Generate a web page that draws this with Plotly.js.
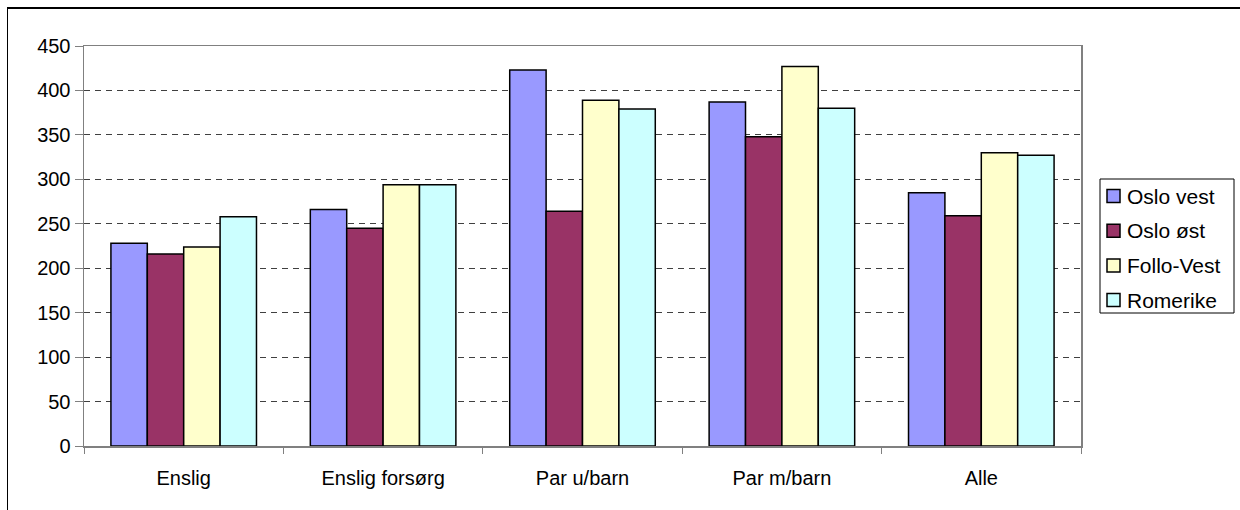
<!DOCTYPE html>
<html>
<head>
<meta charset="utf-8">
<script src="https://cdn.plot.ly/plotly-3.0.1.min.js"></script>
<style>
html,body{margin:0;padding:0;background:#fff;overflow:hidden;}
#wrap{position:relative;width:1240px;height:510px;overflow:hidden;}
#chart{position:absolute;left:0;top:0;width:1240px;height:510px;}
#frame{position:absolute;left:7px;top:7px;width:1400px;height:700px;border-top:2px solid #000;border-left:1.5px solid #000;pointer-events:none;}
</style>
</head>
<body>
<div id="wrap"><div id="chart"></div><div id="frame"></div></div>
<script>
var categories = ["Enslig", "Enslig forsørg", "Par u/barn", "Par m/barn", "Alle"];
var seriesNames = ["Oslo vest", "Oslo øst", "Follo-Vest", "Romerike"];
var osloVest  = [228, 266, 423, 387, 285];
var osloOst   = [216, 245, 264, 348, 259];
var folloVest = [224, 294, 389, 427, 330];
var romerike  = [258, 294, 379, 380, 327];
var yTicks = [0, 50, 100, 150, 200, 250, 300, 350, 400, 450];

var seriesValues = [osloVest, osloOst, folloVest, romerike];
var colors = ["#9999FF", "#993366", "#FFFFCC", "#CCFFFF"];

var fam = "Liberation Sans, Arial, sans-serif";
var tickFont = {family: fam, size: 20, color: "#000"};
var legendFont = {family: fam, size: 21, color: "#000"};

// plot area geometry (pixels) for placing the hand-made legend
var W = 1240, H = 510, L = 84, R = 159, T = 46, B = 64;
var pw = W - L - R, ph = H - T - B;
function px(x){ return (x - L) / pw; }
function py(y){ return (H - B - y) / ph; }

var traces = seriesNames.map(function(name, i){
  return {
    type: "bar",
    name: name,
    x: categories,
    y: seriesValues[i],
    marker: {color: colors[i], line: {color: "#000", width: 1.5}},
    hoverinfo: "x+y+name",
    showlegend: false
  };
});

// legend built from series names and colours
var shapes = [{
  type: "rect", xref: "paper", yref: "paper",
  x0: px(1100), x1: px(1234), y0: py(179), y1: py(313),
  line: {color: "#000", width: 1}, fillcolor: "#fff", layer: "above"
}];
var annotations = [];
var rowY0 = 196, rowStep = 34.7;
seriesNames.forEach(function(name, i){
  var cy = rowY0 + i * rowStep;
  shapes.push({
    type: "rect", xref: "paper", yref: "paper",
    x0: px(1107), x1: px(1120), y0: py(cy + 6.5), y1: py(cy - 6.5),
    line: {color: "#000", width: 1.5}, fillcolor: colors[i], layer: "above"
  });
  annotations.push({
    xref: "paper", yref: "paper", x: px(1125), y: py(cy),
    xanchor: "left", yanchor: "middle", showarrow: false,
    text: name, font: legendFont
  });
});

var layout = {
  width: W, height: H,
  margin: {l: L, r: R, t: T, b: B, autoexpand: false},
  paper_bgcolor: "#fff", plot_bgcolor: "#fff",
  font: tickFont,
  barmode: "group",
  bargap: 0.27,
  bargroupgap: 0,
  showlegend: false,
  shapes: shapes,
  annotations: annotations,
  xaxis: {
    type: "category",
    showgrid: false,
    showline: true, linecolor: "#808080", linewidth: 1.5, mirror: true,
    ticks: "outside", tickson: "boundaries", ticklen: 6, tickcolor: "#808080",
    tickfont: tickFont, ticklabelstandoff: 13
  },
  yaxis: {
    range: [0, 450],
    tickvals: yTicks,
    showgrid: true, gridcolor: "#404040", griddash: "6px,5px", gridwidth: 1,
    zeroline: false,
    showline: true, linecolor: "#808080", linewidth: 1.5, mirror: true,
    ticks: "outside", ticklen: 8, tickcolor: "#808080",
    tickfont: tickFont
  }
};

Plotly.newPlot("chart", traces, layout, {displayModeBar: false, staticPlot: true});
</script>
</body>
</html>
